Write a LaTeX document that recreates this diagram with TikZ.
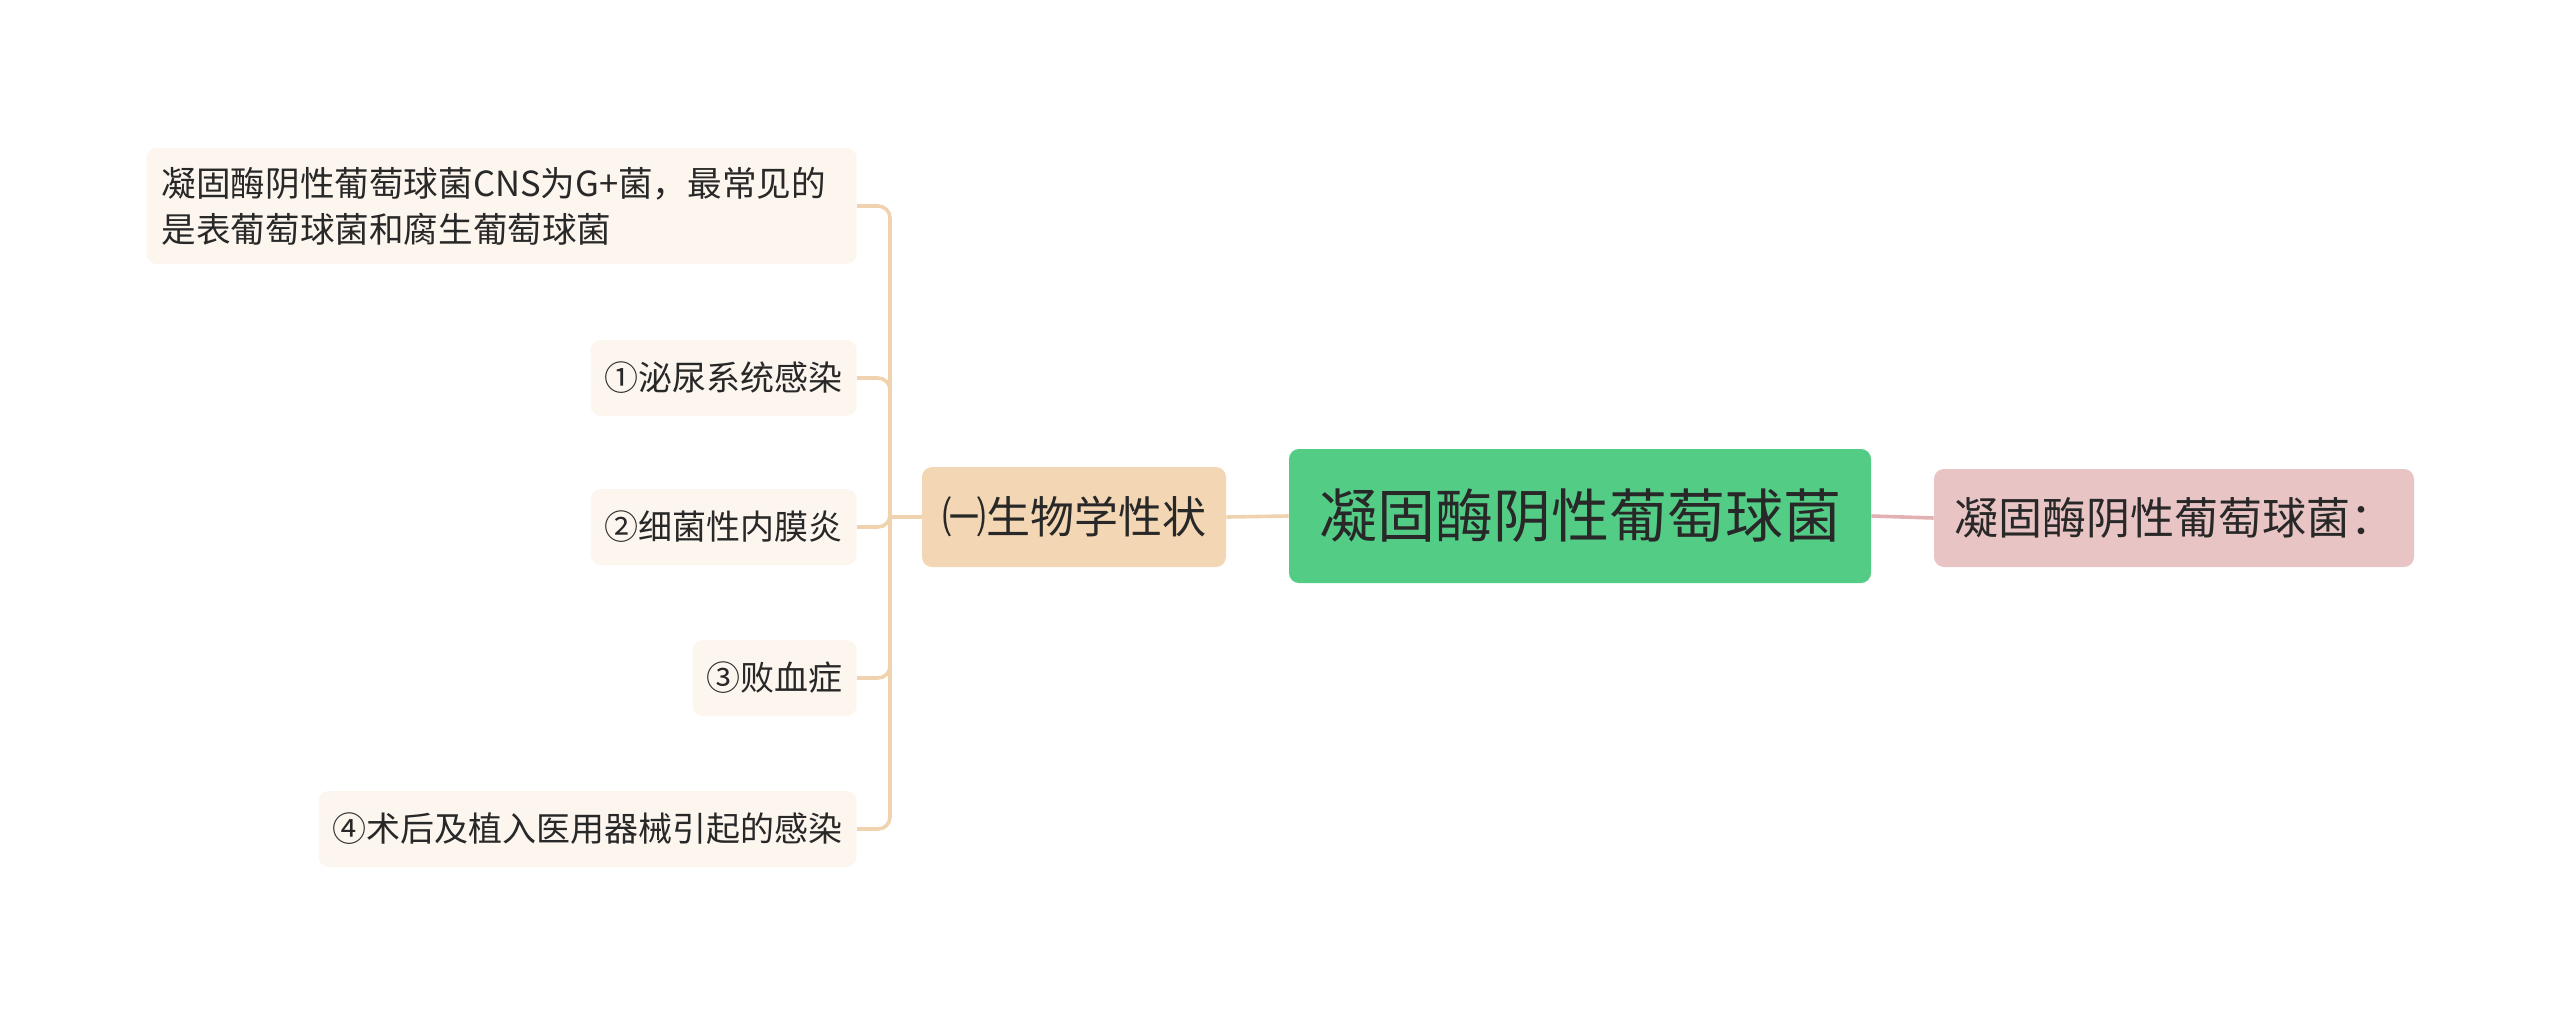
\documentclass[tikz,border=0pt]{standalone}
\usepackage{fontspec}
\setmainfont{Noto Sans CJK SC}
\definecolor{rootgreen}{RGB}{83,205,134}
\definecolor{notepink}{RGB}{232,196,196}
\definecolor{notelink}{RGB}{226,178,178}
\definecolor{subtan}{RGB}{243,214,180}
\definecolor{branchtan}{RGB}{240,210,175}
\definecolor{leaffill}{RGB}{253,246,239}
\definecolor{textgray}{RGB}{40,40,40}

\begin{document}
\begin{tikzpicture}[x=0.5pt,y=-0.5pt,
  box/.style={rounded corners=5pt,text=textgray,inner ysep=0pt},
  rootbox/.style={box,fill=rootgreen,minimum height=67pt,inner xsep=15pt,font=\fontsize{29pt}{34pt}\selectfont},
  notebox/.style={box,fill=notepink,minimum height=49pt,inner xsep=10pt,font=\fontsize{22pt}{26pt}\selectfont},
  subbox/.style={box,fill=subtan,minimum height=50pt,inner xsep=10pt,font=\fontsize{22pt}{26pt}\selectfont},
  leaf/.style={box,fill=leaffill,minimum height=38pt,inner xsep=7pt,anchor=east,font=\fontsize{17pt}{23pt}\selectfont},
  branch/.style={draw=branchtan,line width=1.8pt,rounded corners=6pt}]
\useasboundingbox (0,0) rectangle (2560,1013);

\node[rootbox] (root) at (1580,516) {凝固酶阴性葡萄球菌};
\node[notebox] (note) at (2174,518) {凝固酶阴性葡萄球菌：};
\node[subbox] (sub) at (1074,517) {㈠生物学性状};

\node[leaf,text width=340pt,inner xsep=7.5pt,align=left,minimum height=58pt,font=\fontsize{17.3pt}{23pt}\selectfont] (l0) at (857,206) {凝固酶阴性葡萄球菌CNS为G+菌，最常见的\\是表葡萄球菌和腐生葡萄球菌};
\node[leaf] (l1) at (857,378) {①泌尿系统感染};
\node[leaf] (l2) at (857,527) {②细菌性内膜炎};
\node[leaf] (l3) at (857,678) {③败血症};
\node[leaf] (l4) at (857,829) {④术后及植入医用器械引起的感染};

\coordinate (trunk) at (890,517);
\draw[branch] (root.west) -- (sub.east);
\draw[draw=notelink,line width=1.8pt] (root.east) -- (note.west);
\draw[branch] (sub.west) -- (trunk);
\foreach \n in {l0,l1,l2,l3,l4}
  \draw[branch] (trunk) |- (\n.east);
\end{tikzpicture}
\end{document}
